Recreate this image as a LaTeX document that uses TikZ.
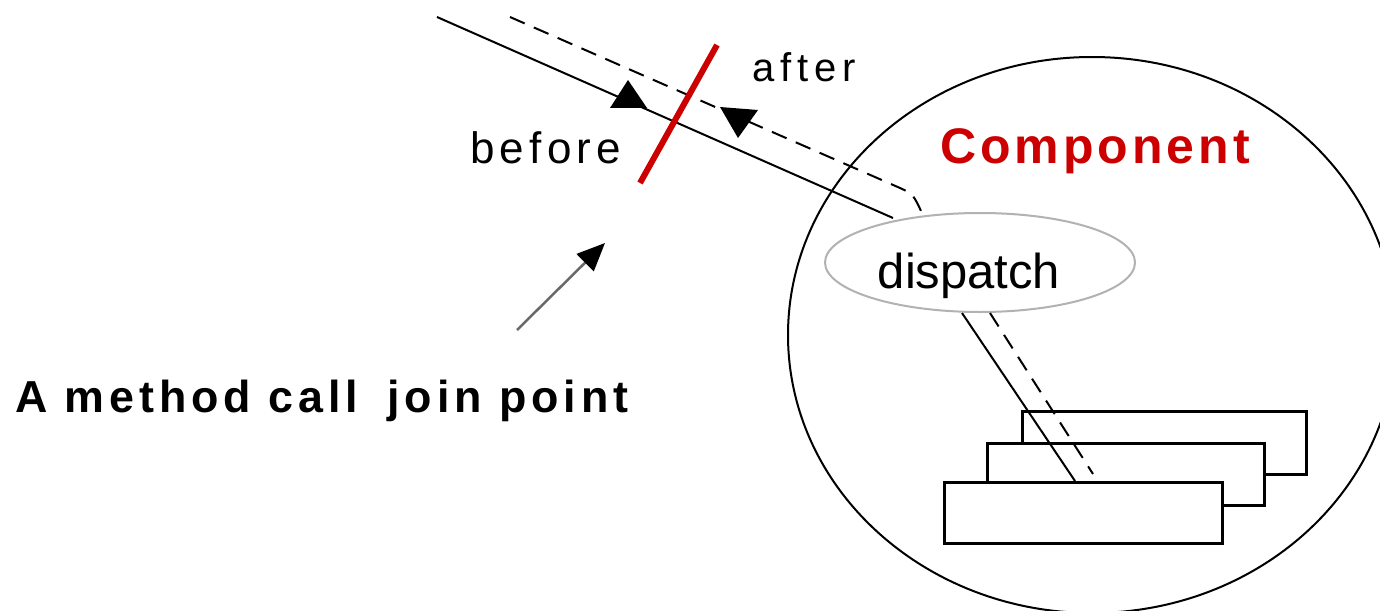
\documentclass[tikz,border=0pt]{standalone}
\usepackage{fontspec}
\setmainfont{Liberation Sans}
\newfontfamily\beforefont[LetterSpace=12]{Liberation Sans}
\newfontfamily\afterfont[LetterSpace=15]{Liberation Sans}
\newfontfamily\compfont[LetterSpace=8]{Liberation Sans}
\newfontfamily\jpfont[LetterSpace=11]{Liberation Sans}
\usetikzlibrary{arrows.meta,shapes.geometric}
\definecolor{accentred}{RGB}{204,0,0}
\definecolor{dispgray}{RGB}{178,178,178}
\definecolor{pointergray}{RGB}{105,105,105}
\begin{document}
\begin{tikzpicture}[x=0.5pt,y=-0.5pt,
  callline/.style={line width=1pt},
  returnline/.style={line width=1pt, dash pattern=on 8pt off 5pt},
  implbox/.style={draw, line width=1.5pt, fill=white, rectangle, inner sep=0pt},
  textlabel/.style={anchor=base west, inner sep=0pt, outer sep=0pt},
]
\useasboundingbox (0,0) rectangle (1380,610);
\fill[white] (0,0) rectangle (1380,610);

% stacked implementation boxes, back to front
\node[implbox, minimum width=142pt, minimum height=31.5pt] (implC) at (1164,442.5) {};
\node[implbox, minimum width=138.5pt, minimum height=31pt] (implB) at (1125.5,474) {};
\node[implbox, minimum width=139pt, minimum height=30.5pt] (implA) at (1083,512.5) {};

% component boundary, cut by the page edge
\begin{scope}
  \clip (0,0) rectangle (1380,610);
  \node[draw, ellipse, line width=1pt, minimum width=304pt, minimum height=278pt, inner sep=0pt] (component) at (1092,335) {};
\end{scope}

% dispatcher
\node[draw=dispgray, line width=1pt, ellipse, minimum width=155pt, minimum height=49.5pt,
      inner sep=0pt, font=\fontsize{24.5}{28}\selectfont, text height=26pt, text depth=0pt]
      (dispatch) at (980,262.5) {dispatch\kern11pt};

% end points of the call and return paths
\coordinate (callin) at (437,17);
\coordinate (callarrive) at (893,218);
\coordinate (retout) at (510,17);
\coordinate (retbend) at (900,188);
\coordinate (retarrive) at (922,213);
\coordinate (callleave) at (962,313);
\coordinate (retleave) at (990,313);
\coordinate (callhit) at (1075,481);
\coordinate (rethit) at (1093,474);

\draw[callline] (callin) -- (callarrive);
\draw[returnline] (retout) -- (retbend) .. controls (913,194) .. (retarrive);
\draw[callline] (callleave) -- (callhit);
\draw[returnline] (retleave) -- (rethit);

% direction marks
\fill (610,108) -- (647,108) -- (628,80) -- cycle;
\fill (720,107) -- (758,110) -- (738,138) -- cycle;

% join point cut
\coordinate (cuttop) at (717,45);
\coordinate (cutbottom) at (640,183);
\draw[accentred, line width=3pt] (cuttop) -- (cutbottom);

% pointer to the join point
\coordinate (pointerfrom) at (517,330);
\coordinate (pointerto) at (605,243);
\draw[pointergray, line width=1.25pt, -{Triangle[length=14pt,width=12pt,color=black,fill=black]}] (pointerfrom) -- (pointerto);

% labels
\node[textlabel, font=\afterfont\fontsize{20}{24}\selectfont] (after) at (752,82) {after};
\node[textlabel, font=\beforefont\fontsize{22}{26}\selectfont] (before) at (470,163) {before};
\node[textlabel, text=accentred, font=\compfont\bfseries\fontsize{25}{30}\selectfont] (title) at (940,163) {Component};
\node[textlabel, font=\jpfont\bfseries\fontsize{22.4}{27}\selectfont] (jplabel) at (15,412) {A method call\hspace{6pt} join point};
\end{tikzpicture}
\end{document}
